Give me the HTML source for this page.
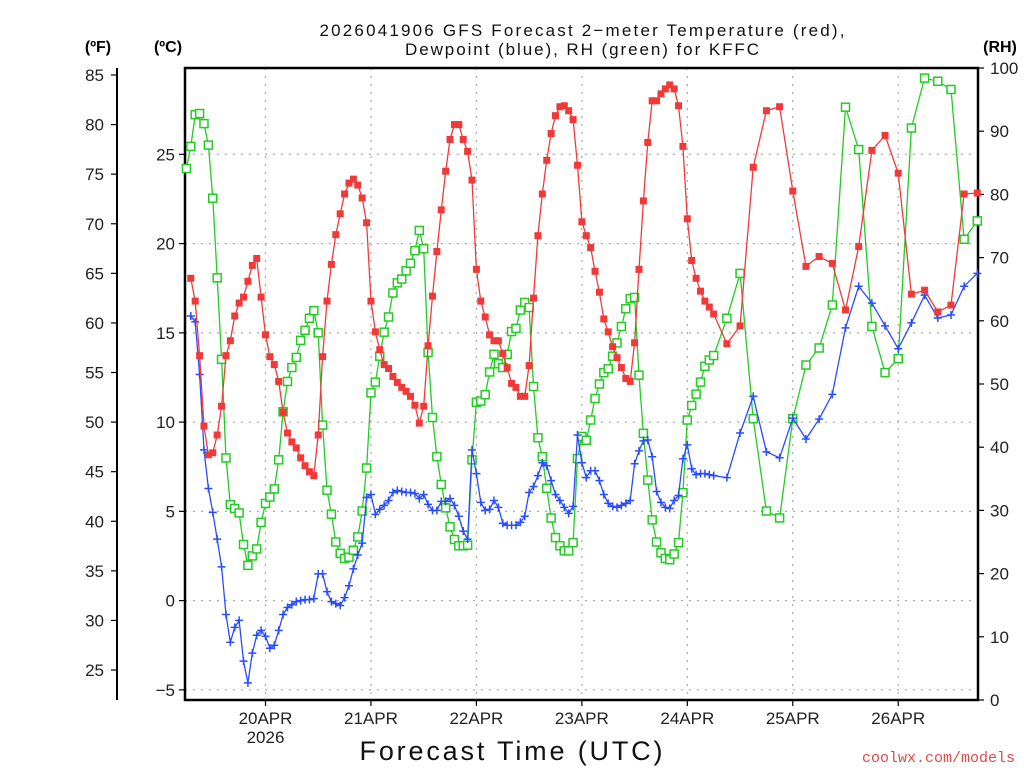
<!DOCTYPE html>
<html><head><meta charset="utf-8"><style>
html,body{margin:0;padding:0;background:#fff;}
svg{display:block;font-family:"Liberation Sans",sans-serif;}
</style></head><body>
<svg id="chart" width="1024" height="768" viewBox="0 0 1024 768" xmlns="http://www.w3.org/2000/svg">
<rect x="0" y="0" width="1024" height="768" fill="#fff"/>
<text x="582" y="36" font-size="17" text-anchor="middle" textLength="525" fill="#111">2026041906 GFS Forecast 2−meter Temperature (red),</text>
<text x="582" y="55" font-size="17" text-anchor="middle" textLength="354" fill="#111">Dewpoint (blue), RH (green) for KFFC</text>
<text x="98" y="52" font-size="16" font-weight="bold" text-anchor="middle">(ºF)</text>
<text x="168" y="52" font-size="16" font-weight="bold" text-anchor="middle">(ºC)</text>
<text x="1000" y="52" font-size="16" font-weight="bold" text-anchor="middle">(RH)</text>
<text x="511" y="760" font-size="27" text-anchor="middle" textLength="303" fill="#111">Forecast Time (UTC)</text>
<text x="1015" y="762" font-size="15" text-anchor="end" fill="#e04a4a" font-family="Liberation Mono, monospace">coolwx.com/models</text>
<g id="grid"></g><g id="axes"></g><g id="series"></g>
</svg>
<script>
const hours=[-18,-17,-16,-15,-14,-13,-12,-11,-10,-9,-8,-7,-6,-5,-4,-3,-2,-1,
0,1,2,3,4,5,6,7,8,9,10,11,12,13,14,15,16,17,18,19,20,21,22,23,
24,25,26,27,28,29,30,31,32,33,34,35,36,37,38,39,40,41,42,43,44,45,46,47,
48,49,50,51,52,53,54,55,56,57,58,59,60,61,62,63,64,65,66,67,68,69,70,71,
72,73,74,75,76,77,78,79,80,81,82,83,84,85,86,87,88,89,90,91,92,93,94,95,
96,97,98,99,100,101,102,
105,108,111,114,117,120,123,126,129,132,135,138,141,144,147,150,153,156,159,162];
const tempF=[null,64.5,62.2,56.7,49.6,46.7,46.9,48.7,51.6,56.7,58.2,60.7,62.0,62.6,64.2,65.8,66.5,62.6,
58.8,56.6,55.8,54.1,51.0,48.9,48.0,47.4,46.4,45.6,45.0,44.6,48.7,56.6,62.2,65.9,68.9,71.0,73.0,74.1,74.5,73.9,72.6,70.1,
62.2,59.1,57.3,55.8,55.4,54.6,54.0,53.5,53.1,52.6,51.7,49.9,51.6,57.7,62.7,67.2,71.4,75.3,78.5,80.0,80.0,78.5,77.3,74.4,
65.4,62.2,60.6,58.8,58.2,58.2,56.9,55.5,53.9,53.5,52.6,52.6,55.7,62.5,68.8,73.0,76.4,79.1,80.9,81.8,81.9,81.4,80.5,75.9,
70.2,68.8,67.6,65.2,63.1,60.4,59.1,57.6,56.5,55.5,54.4,54.1,58.0,65.4,72.3,78.2,82.4,82.4,83.1,83.6,84.0,83.6,81.9,77.8,
70.5,66.3,64.5,63.2,62.2,61.6,60.9,
57.9,59.7,75.7,81.4,81.8,73.3,65.7,66.7,66.0,61.3,67.7,77.4,78.9,75.1,62.9,63.3,61.1,61.8,73.0,73.1];
const dewF=[null,60.7,60.1,54.8,47.2,43.3,40.9,38.2,35.4,30.6,27.8,29.3,30.0,25.9,23.7,26.7,28.5,29.0,
28.4,27.2,27.5,29.0,30.6,31.3,31.6,31.9,32.0,32.1,32.1,32.2,34.7,34.7,32.9,31.9,31.7,31.5,32.3,33.5,35.2,36.6,37.8,42.4,
42.7,40.7,41.2,41.6,42.1,42.9,43.1,43.0,42.9,42.9,42.8,42.3,42.7,41.7,41.1,41.1,42.0,42.0,42.3,41.6,40.5,39.0,38.2,47.2,
44.8,41.9,41.1,41.2,42.1,41.4,39.8,39.6,39.6,39.6,39.9,40.5,42.9,43.5,44.6,45.9,45.6,44.1,42.7,42.1,41.4,40.8,41.5,48.7,
45.9,44.4,45.1,45.1,44.1,42.7,41.8,41.5,41.4,41.6,41.8,42.1,45.8,47.1,48.1,48.2,46.5,43.0,41.9,41.4,41.3,42.1,42.6,46.3,
47.7,45.3,44.7,44.8,44.8,44.7,44.6,
44.4,48.9,52.6,47.0,46.4,50.4,48.3,50.3,52.8,59.5,63.7,62.0,59.7,57.4,60.0,62.8,60.5,60.8,63.7,65.0];
const rhPct=[84.1,87.6,92.6,92.8,91.2,87.8,79.4,66.8,53.9,38.3,30.9,30.3,29.6,24.6,21.3,22.8,23.9,28.1,
31.1,32.1,33.4,38.0,45.6,50.4,52.6,54.2,56.9,58.5,60.4,61.6,58.1,43.5,33.2,29.4,25.0,23.2,22.4,22.6,23.7,25.8,29.9,36.7,
48.6,50.3,54.4,58.2,60.6,64.4,66.0,66.6,67.9,69.1,71.1,74.3,71.4,55.0,44.7,38.5,34.1,30.4,27.4,25.4,24.4,24.4,24.5,38.0,
47.1,47.3,48.3,51.9,54.7,53.2,52.6,54.7,58.3,58.8,61.7,62.9,62.1,49.6,41.5,38.5,33.5,28.8,25.7,24.4,23.6,23.6,24.9,38.2,
41.7,41.1,44.3,47.7,50.0,51.8,52.4,54.4,56.5,59.1,61.9,63.5,63.7,51.4,42.2,34.8,28.5,25.0,23.3,22.4,22.2,23.1,24.9,32.8,
44.3,46.6,48.4,50.3,52.8,53.8,54.5,
60.4,67.5,44.5,29.9,28.8,44.5,53.0,55.7,62.5,93.8,87.1,59.1,51.8,54.0,90.5,98.4,97.9,96.6,72.9,75.8];
const dayTicks=[0,24,48,72,96,120,144];
const dayLabels=["20APR","21APR","22APR","23APR","24APR","25APR","26APR"];
const fTicks=[25,30,35,40,45,50,55,60,65,70,75,80,85];
const cTicks=[-5,0,5,10,15,20,25];
const rhTicks=[0,10,20,30,40,50,60,70,80,90,100];

const NS="http://www.w3.org/2000/svg";
const L=185,R=978,T=68,B=700;
function xH(h){return 265.5+h*4.394;}
function yF(f){return 75+(85-f)*9.917;}
function yC(c){return yF(c*1.8+32);}
function yRH(r){return B-r*6.32;}
function mk(tag,attrs,parent){const e=document.createElementNS(NS,tag);for(const k in attrs)e.setAttribute(k,attrs[k]);parent.appendChild(e);return e;}
const grid=document.getElementById('grid'),axes=document.getElementById('axes'),ser=document.getElementById('series');

cTicks.forEach(c=>{const y=yC(c);
 const g=mk('line',{x1:L,x2:R,y1:y,y2:y,stroke:'#aaa','stroke-width':1.2,'stroke-dasharray':'2,6'},grid);
 
 
 const t=mk('line',{x1:L-6,x2:L,y1:y,y2:y,stroke:'#000','stroke-width':1.2},axes);
 
 
 const lb=mk('text',{x:L-10,y:y+6,'font-size':17,'text-anchor':'end',fill:'#222'},axes);
 lb.textContent=(c<0?'−'+(-c):c);
 
 
});
dayTicks.forEach((h,i)=>{const x=xH(h);
 const g=mk('line',{x1:x,x2:x,y1:T,y2:B,stroke:'#aaa','stroke-width':1.2,'stroke-dasharray':'2,6'},grid);
 
 
 const t=mk('line',{x1:x,x2:x,y1:B,y2:B+6,stroke:'#000','stroke-width':1.2},axes);
 
 
 const lb=mk('text',{x:x,y:724,'font-size':17,'text-anchor':'middle',fill:'#222'},axes);
 lb.textContent=dayLabels[i];
 
 
});
const yr=mk('text',{x:xH(0),y:743,'font-size':17,'text-anchor':'middle',fill:'#222'},axes);
yr.textContent='2026';



const fr=mk('rect',{x:L,y:T,width:R-L,height:B-T,fill:'none',stroke:'#000','stroke-width':2.5},axes);


const fa=mk('line',{x1:117,x2:117,y1:T,y2:B,stroke:'#000','stroke-width':2},axes);


fTicks.forEach(f=>{const y=yF(f);
 const t=mk('line',{x1:111,x2:117,y1:y,y2:y,stroke:'#000','stroke-width':1.2},axes);
 
 
 const lb=mk('text',{x:104,y:y+6,'font-size':17,'text-anchor':'end',fill:'#222'},axes);
 lb.textContent=f;
 
 
});
rhTicks.forEach(r=>{const y=yRH(r);
 const t=mk('line',{x1:R,x2:R+6,y1:y,y2:y,stroke:'#000','stroke-width':1.2},axes);
 
 
 const lb=mk('text',{x:R+12,y:y+6,'font-size':17,'text-anchor':'start',fill:'#222'},axes);
 lb.textContent=r;
 
 
});

function drawSeries(vals,yfn,color,kind,name){
 const g=mk('g',{},ser);
 
 
 let d='';let pen=false;
 vals.forEach((v,i)=>{if(v==null){pen=false;return;}const x=xH(hours[i]),y=yfn(v);d+=(pen?'L':'M')+x.toFixed(1)+' '+y.toFixed(1);pen=true;});
 const p=mk('path',{d:d,fill:'none',stroke:color,'stroke-width':1.3},g);
 
 
 vals.forEach((v,i)=>{if(v==null)return;const x=xH(hours[i]),y=yfn(v);let m;
  if(kind==='fill'){m=mk('rect',{x:x-3.5,y:y-3.5,width:7,height:7,fill:color},g);}
  else if(kind==='hollow'){m=mk('rect',{x:x-4,y:y-4,width:8,height:8,fill:'#fff',stroke:color,'stroke-width':1.5},g);}
  else{m=mk('path',{d:`M${x-4} ${y}H${x+4}M${x} ${y-4}V${y+4}`,stroke:color,'stroke-width':1.5,fill:'none'},g);}
  
  
 });
}
drawSeries(rhPct,yRH,'#22cc22','hollow','rh');
drawSeries(dewF,yF,'#2a4cff','plus','dewpoint');
drawSeries(tempF,yF,'#f03a3a','fill','temperature');
</script>
</body></html>
